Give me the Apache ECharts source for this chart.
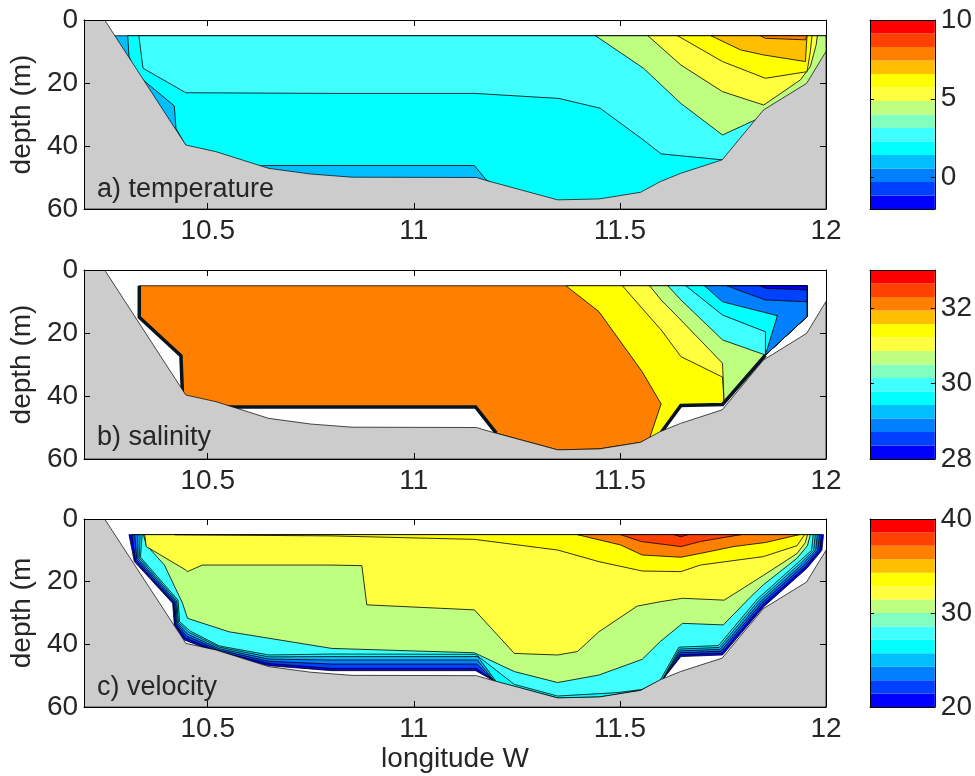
<!DOCTYPE html>
<html>
<head>
<meta charset="utf-8">
<script src="https://cdn.jsdelivr.net/npm/echarts/dist/echarts.min.js"></script>
<style>
html, body { margin: 0; padding: 0; background: #fff; }
#chart { width: 975px; height: 776px; }
</style>
</head>
<body>
<div id="chart"></div>
<script>
// colour bands, lowest first (same 14 colours on all three colour bars)
const bandColors = ['#0000FF', '#0040FF', '#0080FF', '#00BFFF', '#00FFFF', '#40FFFF', '#80FFBF',
  '#BFFF80', '#FFFF40', '#FFFF00', '#FFBF00', '#FF8000', '#FF4000', '#FF0000'];

const lonTicks = [10.5, 11, 11.5, 12];
const tempRange = [-2, 10];
const tempTicks = [0, 5, 10];
const saltRange = [28, 33];
const saltTicks = [28, 30, 32];
const veloRange = [20, 40];
const veloTicks = [20, 30, 40];
const panelNames = ['a) temperature', 'b) salinity', 'c) velocity'];

// sea bed, [longitude W, depth m]
const bathy = [[10.2, 0], [10.25, 0], [10.447, 39.7], [10.52, 41.8], [10.648, 47.1], [10.75, 48.9],
  [10.85, 49.9], [11.152, 50], [11.18, 51.1], [11.349, 57.1], [11.45, 56.8], [11.55, 54.7],
  [11.598, 51.3], [11.647, 48.7], [11.748, 44.4], [11.848, 28.6], [11.953, 20.1], [12, 10],
  [12, 60], [10.2, 60]];

// filled contour regions: [colour band, outline in [lon, depth]], drawn in order
const tempLayers = [
  [3, [[10.25, 5], [12, 5], [12, 60], [10.25, 60]]],
  [4, [[10.306, 5], [12, 5], [12, 60], [11.3, 60], [11.25, 56], [11.176, 50.8], [11.147, 46.2],
    [10.648, 46.2], [10.5, 47], [10.446, 39.7], [10.423, 34.4], [10.419, 27.3], [10.343, 19],
    [10.32, 15], [10.309, 11.5]]],
  [5, [[10.333, 5], [12, 5], [12, 60], [11.9, 60], [11.76, 46], [11.749, 44.4], [11.6, 42.5],
    [11.557, 38.1], [11.452, 28], [11.352, 24.9], [11.147, 23.3], [10.801, 23.3], [10.447, 23.1],
    [10.343, 15.3]]],
  [7, [[11.441, 5], [12, 5], [12, 40], [11.9, 40], [11.837, 31.2], [11.749, 36.5], [11.648, 26.5],
    [11.557, 15.3]]],
  [8, [[11.568, 5], [11.979, 5], [11.976, 8], [11.962, 14.8], [11.938, 19], [11.849, 27],
    [11.749, 22.75], [11.648, 14.3]]],
  [9, [[11.64, 5], [11.966, 5], [11.962, 10], [11.954, 16.4], [11.853, 18.5], [11.749, 13.2]]],
  [10, [[11.721, 5], [11.954, 5], [11.95, 13.2], [11.849, 11.1], [11.793, 9.5]]],
  [11, [[11.841, 5], [11.954, 5], [11.95, 6.3], [11.853, 5.8]]]
];

const saltLayers = [
  [11, [[10.334, 5], [11.954, 5], [11.954, 14.8], [11.853, 27], [11.749, 42.7], [11.648, 43],
    [11.6, 51.6], [11.55, 54.7], [11.45, 56.8], [11.349, 57.1], [11.2, 51.8], [11.15, 43.5],
    [10.44, 43.5], [10.435, 27.2], [10.334, 15]]],
  [9, [[11.369, 5], [11.954, 5], [11.954, 14.8], [11.853, 27], [11.749, 42.7], [11.648, 43],
    [11.6, 51.6], [11.572, 53.4], [11.6, 42.5], [11.554, 32.3], [11.449, 13.2]]],
  [8, [[11.506, 5], [11.954, 5], [11.954, 14.8], [11.853, 27], [11.753, 42.5], [11.749, 34],
    [11.648, 27.5], [11.6, 19], [11.554, 12.2]]],
  [7, [[11.572, 5], [11.954, 5], [11.954, 14.8], [11.853, 27], [11.753, 42.5], [11.749, 29.6],
    [11.648, 15.9], [11.6, 9.5]]],
  [5, [[11.616, 5], [11.954, 5], [11.954, 14.8], [11.853, 27], [11.749, 22.2], [11.648, 9.5]]],
  [4, [[11.66, 5], [11.954, 5], [11.954, 14.8], [11.853, 27], [11.853, 19.6], [11.749, 14.3]]],
  [2, [[11.705, 5], [11.954, 5], [11.954, 14.8], [11.853, 27], [11.882, 14.5], [11.749, 10.1]]],
  [1, [[11.76, 5], [11.954, 5], [11.954, 10.1], [11.853, 9.5], [11.8, 7]]],
  [0, [[11.84, 5], [11.954, 5], [11.954, 6.3], [11.853, 5.8]]]
];
// crowded contours along the lower edge of the salinity section
const saltEdges = [
  [[10.334, 5], [10.334, 15], [10.435, 27.2], [10.44, 43.5], [11.15, 43.5], [11.2, 51.8]],
  [[11.6, 51.6], [11.648, 43], [11.749, 42.7], [11.853, 27]]
];

const veloLayers = [
  [0, [[10.309, 5], [11.994, 5], [11.99, 10], [11.954, 15.7], [11.849, 28], [11.749, 43.4], [11.648, 43.9],
    [11.6, 51.9], [11.55, 54.7], [11.45, 56.8], [11.349, 57.1], [11.196, 51.8], [11.15, 48.4],
    [10.801, 48.4], [10.648, 46.8], [10.528, 42.9], [10.443, 38.6], [10.419, 33.8], [10.415, 26.9],
    [10.322, 13.6]]],
  [1, [[10.316, 5], [11.989, 5], [11.985, 10], [11.95, 15.3], [11.846, 27.5], [11.747, 42.8], [11.647, 43.3],
    [11.6, 51.9], [11.55, 54.7], [11.45, 56.8], [11.349, 57.1], [11.196, 51.8], [11.152, 47.7],
    [10.801, 47.7], [10.648, 46.1], [10.528, 42.4], [10.446, 38], [10.4215, 33.6], [10.4175, 26.7],
    [10.325, 13.3]]],
  [2, [[10.323, 5], [11.984, 5], [11.98, 10], [11.946, 14.9], [11.843, 27], [11.745, 42.2], [11.646, 42.7],
    [11.6, 51.9], [11.55, 54.7], [11.45, 56.8], [11.349, 57.1], [11.196, 51.8], [11.153, 46.3],
    [10.801, 46.3], [10.648, 45.4], [10.528, 41.9], [10.449, 37.4], [10.424, 33.4], [10.42, 26.5],
    [10.328, 13]]],
  [3, [[10.33, 5], [11.979, 5], [11.975, 10], [11.942, 14.5], [11.84, 26.5], [11.743, 41.6], [11.645, 42.1],
    [11.6, 51.9], [11.55, 54.7], [11.45, 56.8], [11.349, 57.1], [11.196, 51.8], [11.154, 45],
    [10.801, 45], [10.648, 44.7], [10.528, 41.4], [10.452, 36.8], [10.4265, 33.2], [10.4225, 26.3],
    [10.331, 12.7]]],
  [4, [[10.336, 5], [11.974, 5], [11.97, 10], [11.938, 14.1], [11.837, 26], [11.741, 41], [11.644, 41.5],
    [11.6, 51.9], [11.55, 54.7], [11.45, 56.8], [11.349, 57.1], [11.2, 51.9], [11.155, 43.9],
    [10.801, 43.9], [10.648, 44], [10.528, 40.9], [10.455, 36.2], [10.429, 33], [10.425, 26.1],
    [10.334, 12.4]]],
  [5, [[10.341, 5], [11.969, 5], [11.965, 10], [11.934, 13.7], [11.834, 25.5], [11.739, 40.4], [11.643, 40.9],
    [11.598, 51.4], [11.554, 54.4], [11.494, 55.4], [11.349, 56.5], [11.244, 52.8], [11.15, 43.2],
    [10.801, 43.1], [10.648, 43.4], [10.528, 40.5], [10.458, 35.8], [10.432, 32.8], [10.428, 25.9],
    [10.337, 12.2]]],
  [7, [[10.344, 5], [10.351, 8.3], [10.395, 14.7], [10.439, 26.9], [10.451, 31.7], [10.552, 36],
    [10.801, 41.3], [11.147, 42.7], [11.244, 48.7], [11.349, 52.2], [11.449, 49.8], [11.554, 44.8],
    [11.598, 39.1], [11.652, 33.3], [11.751, 33.8], [11.816, 25], [11.848, 21], [11.93, 12.5],
    [11.955, 8.5], [11.962, 5]]],
  [8, [[10.347, 5], [10.351, 8.8], [10.447, 16.3], [10.451, 16.8], [10.487, 14.7], [10.801, 14.7],
    [10.874, 14.9], [10.886, 27.4], [11.147, 29], [11.244, 42.9], [11.349, 43.4], [11.397, 42.3],
    [11.449, 36], [11.542, 27.8], [11.598, 26.4], [11.652, 25.3], [11.753, 25.9], [11.848, 18],
    [11.93, 11], [11.95, 7.5], [11.955, 5]]],
  [9, [[10.42, 5], [10.6, 5.2], [10.801, 5.4], [11.147, 6.5], [11.349, 9.9], [11.449, 13.6],
    [11.554, 16.6], [11.648, 16.8], [11.695, 14.7], [11.848, 12], [11.93, 8.5], [11.948, 5]]],
  [11, [[11.397, 5], [11.502, 8.3], [11.554, 11.5], [11.648, 12.2], [11.695, 11], [11.776, 8.8],
    [11.853, 7.5], [11.935, 5]]],
  [12, [[11.502, 5], [11.552, 7.2], [11.648, 8.8], [11.695, 7.2], [11.793, 5]]],
  [13, [[11.632, 5], [11.648, 5.7], [11.664, 5]]]
];

const FONT = 'Liberation Sans';
const TXT = '#262626';
const panelTops = [20, 270, 519];
const panelHeights = [189, 189, 188];
const cbRanges = [tempRange, saltRange, veloRange];
const cbTicks = [tempTicks, saltTicks, veloTicks];

const grids = [];
const xAxes = [];
const yAxes = [];
const series = [];

function frameAxis(extra) {
  return Object.assign({
    type: 'value',
    z: 10,
    axisLine: { show: true, onZero: false, lineStyle: { color: '#000', width: 1 } },
    axisTick: { show: false },
    axisLabel: { show: false },
    splitLine: { show: false }
  }, extra);
}

function regionSeries(panel, layers, z) {
  return {
    type: 'custom',
    xAxisIndex: panel * 2,
    yAxisIndex: panel * 2,
    coordinateSystem: 'cartesian2d',
    clip: true,
    silent: true,
    z: z,
    data: layers.map((layer, i) => [i, 0]),
    renderItem: function (params, api) {
      const layer = layers[params.dataIndex];
      return {
        type: 'polygon',
        shape: { points: layer[1].map(p => api.coord(p)) },
        style: { fill: bandColors[layer[0]], stroke: '#000', lineWidth: 0.8 }
      };
    }
  };
}

for (let i = 0; i < 3; i++) {
  const top = panelTops[i], h = panelHeights[i];
  grids.push({ left: 81, width: 745, top: top, height: h });

  const tick = { show: true, inside: true, length: 6, customValues: lonTicks, lineStyle: { color: '#000' } };
  xAxes.push(frameAxis({
    gridIndex: i, min: 10.2, max: 12, position: 'bottom', axisTick: tick,
    axisLabel: { show: true, customValues: lonTicks, fontFamily: FONT, fontSize: 28, color: TXT, margin: 8 },
    name: i === 2 ? 'longitude W' : '', nameLocation: 'middle', nameGap: 38,
    nameTextStyle: { fontFamily: FONT, fontSize: 28, color: TXT }
  }));
  xAxes.push(frameAxis({ gridIndex: i, min: 10.2, max: 12, position: 'top', axisTick: tick }));

  const ytick = { show: true, inside: true, length: 6, lineStyle: { color: '#000' } };
  yAxes.push(frameAxis({
    gridIndex: i, min: 0, max: 60, interval: 20, inverse: true, position: 'left', axisTick: ytick,
    axisLabel: { show: true, fontFamily: FONT, fontSize: 28, color: TXT, margin: 6 },
    name: i === 2 ? 'depth (m' : 'depth (m)', nameLocation: 'middle', nameGap: 40, nameRotate: 90,
    nameTextStyle: { fontFamily: FONT, fontSize: 28, color: TXT }
  }));
  yAxes.push(frameAxis({ gridIndex: i, min: 0, max: 60, interval: 20, inverse: true, position: 'right', axisTick: ytick }));
}

for (let i = 0; i < 3; i++) {
  const g = 3 + i;
  const range = cbRanges[i];
  grids.push({ left: 870, width: 66, top: panelTops[i], height: panelHeights[i] });
  xAxes.push(frameAxis({ gridIndex: g, min: 0, max: 1, position: 'bottom' }));
  xAxes.push(frameAxis({ gridIndex: g, min: 0, max: 1, position: 'top' }));
  const ct = { show: true, inside: true, length: 4, customValues: cbTicks[i], lineStyle: { color: '#000' } };
  yAxes.push(frameAxis({ gridIndex: g, min: range[0], max: range[1], position: 'left', axisTick: ct }));
  yAxes.push(frameAxis({
    gridIndex: g, min: range[0], max: range[1], position: 'right', axisTick: ct,
    axisLabel: { show: true, customValues: cbTicks[i], fontFamily: FONT, fontSize: 28, color: TXT, margin: 6 }
  }));
  series.push({
    type: 'custom',
    xAxisIndex: 6 + i * 2,
    yAxisIndex: 6 + i * 2,
    coordinateSystem: 'cartesian2d',
    silent: true,
    data: bandColors.map((c, k) => [k, 0]),
    renderItem: function (params, api) {
      const k = params.dataIndex;
      const step = (range[1] - range[0]) / bandColors.length;
      const p0 = api.coord([0, range[0] + k * step]);
      const p1 = api.coord([1, range[0] + (k + 1) * step]);
      return {
        type: 'rect',
        shape: { x: p0[0], y: p1[1], width: p1[0] - p0[0], height: p0[1] - p1[1] },
        style: { fill: bandColors[k] }
      };
    }
  });
}

series.push(regionSeries(0, tempLayers, 2));
series.push(regionSeries(1, saltLayers, 2));
series.push(regionSeries(2, veloLayers, 2));

// thick edge of the salinity section
series.push({
  type: 'custom',
  xAxisIndex: 2,
  yAxisIndex: 2,
  coordinateSystem: 'cartesian2d',
  clip: true,
  silent: true,
  z: 3,
  data: saltEdges.map((e, i) => [i, 0]),
  renderItem: function (params, api) {
    return {
      type: 'polyline',
      shape: { points: saltEdges[params.dataIndex].map(p => api.coord(p)) },
      style: { stroke: '#07141d', lineWidth: 3.5, fill: null, lineJoin: 'miter' }
    };
  }
});

// sea bed in every panel
for (let i = 0; i < 3; i++) {
  series.push({
    type: 'custom',
    xAxisIndex: i * 2,
    yAxisIndex: i * 2,
    coordinateSystem: 'cartesian2d',
    clip: true,
    silent: true,
    z: 4,
    data: [[0, 0]],
    renderItem: function (params, api) {
      return {
        type: 'polygon',
        shape: { points: bathy.map(p => api.coord(p)) },
        style: { fill: '#CCCCCC', stroke: '#000', lineWidth: 0.7 }
      };
    }
  });
}

const labelTops = [176, 424, 674];
const graphic = panelNames.map((t, i) => ({
  type: 'text',
  left: 97,
  top: labelTops[i],
  z: 20,
  style: { text: t, font: '27px "Liberation Sans"', fill: TXT }
}));

const myChart = echarts.init(document.getElementById('chart'), null, { renderer: 'canvas' });
myChart.setOption({
  animation: false,
  backgroundColor: '#fff',
  grid: grids,
  xAxis: xAxes,
  yAxis: yAxes,
  series: series,
  graphic: graphic
});
</script>
</body>
</html>
